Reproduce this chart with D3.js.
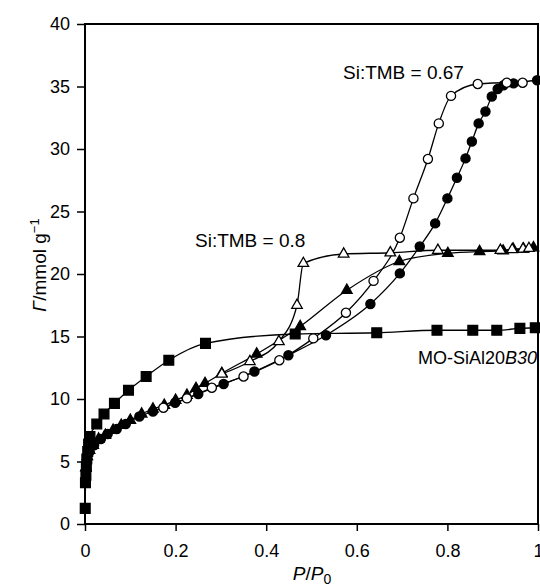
<!DOCTYPE html>
<html lang="en">
<head>
    <meta charset="UTF-8">
    <title>Isotherms</title>
    <style>
        body { margin: 0; background: #fff; }
        text { font-family: "Liberation Sans", Arial, sans-serif; fill: #000; }
        .curve { fill: none; stroke: #000; stroke-width: 1.3px; }
        .frame { fill: none; stroke: #000; stroke-width: 2px; }
        .axis path { stroke: #000; stroke-width: 2px; }
        .axis line { stroke: #000; stroke-width: 1.5px; }
        .axis text { font-size: 18px; }
    </style>
</head>
<body>
<svg width="540" height="588"></svg>
<script src="https://cdn.jsdelivr.net/npm/d3@7"></script>
<script>
// MO-SiAl20B30 (filled squares)
var sqX = [0.0005, 0.001, 0.002, 0.003, 0.004, 0.006, 0.008, 0.011, 0.026, 0.042, 0.065, 0.096, 0.135, 0.185, 0.266, 0.464, 0.644, 0.777, 0.856, 0.909, 0.96, 0.994];
var sqY = [1.25, 3.3, 3.9, 4.6, 5.2, 5.8, 6.4, 7.0, 8.0, 8.8, 9.65, 10.7, 11.8, 13.1, 14.45, 15.2, 15.3, 15.5, 15.5, 15.5, 15.65, 15.7];

// Si:TMB = 0.8 adsorption (filled triangles)
var triAdsX = [0.002, 0.005, 0.01, 0.018, 0.03, 0.045, 0.062, 0.08, 0.1, 0.125, 0.15, 0.175, 0.2, 0.225, 0.245, 0.265, 0.302, 0.379, 0.475, 0.578, 0.694, 0.801, 0.871, 0.923, 0.945, 0.968, 0.99];
var triAdsY = [4.5, 5.4, 5.9, 6.3, 6.8, 7.1, 7.5, 7.9, 8.3, 8.8, 9.2, 9.5, 9.9, 10.3, 10.85, 11.25, 12.05, 13.6, 15.8, 18.7, 21.0, 21.65, 21.8, 21.85, 22.0, 22.0, 22.1];

// Si:TMB = 0.8 desorption (open triangles)
var triDesX = [0.302, 0.364, 0.428, 0.468, 0.482, 0.571, 0.674, 0.779, 0.917, 0.943, 0.967, 0.98];
var triDesY = [12.0, 13.0, 14.6, 17.5, 20.85, 21.6, 21.7, 21.9, 21.9, 21.95, 22.0, 22.05];

// Si:TMB = 0.67 adsorption (filled circles)
var cirAdsX = [0.002, 0.005, 0.01, 0.02, 0.035, 0.05, 0.07, 0.09, 0.12, 0.15, 0.199, 0.25, 0.306, 0.374, 0.449, 0.532, 0.63, 0.695, 0.739, 0.773, 0.800, 0.821, 0.840, 0.854, 0.869, 0.884, 0.898, 0.911, 0.924, 0.946, 0.998];
var cirAdsY = [4.3, 5.2, 5.8, 6.3, 6.8, 7.2, 7.6, 8.0, 8.6, 9.0, 9.7, 10.4, 11.2, 12.2, 13.5, 15.1, 17.6, 20.05, 22.2, 24.05, 26.05, 27.7, 29.25, 30.6, 32.05, 33.0, 34.2, 34.8, 35.1, 35.25, 35.5];

// Si:TMB = 0.67 desorption (open circles)
var cirDesX = [0.173, 0.225, 0.28, 0.35, 0.429, 0.504, 0.576, 0.637, 0.695, 0.725, 0.757, 0.781, 0.808, 0.867, 0.931, 0.966];
var cirDesY = [9.3, 10.05, 10.9, 11.8, 13.1, 14.85, 16.9, 19.45, 22.9, 26.05, 29.2, 32.05, 34.25, 35.2, 35.3, 35.3];

var xTicks = [0, 0.2, 0.4, 0.6, 0.8, 1];
var xTickLabels = ["0", "0.2", "0.4", "0.6", "0.8", "1"];
var yTicks = [0, 5, 10, 15, 20, 25, 30, 35, 40];

var svg = d3.select("svg");
var mLeft = 85, mTop = 24, w = 453, h = 500;

var x = d3.scaleLinear().domain([0, 1]).range([mLeft, mLeft + w]);
var y = d3.scaleLinear().domain([0, 40]).range([mTop + h, mTop]);

function zip(xs, ys) {
  return xs.map(function (v, i) { return [v, ys[i]]; });
}

var line = d3.line()
  .x(function (d) { return x(d[0]); })
  .y(function (d) { return y(d[1]); })
  .curve(d3.curveMonotoneX);

// frame
svg.append("rect").attr("class", "frame")
  .attr("x", mLeft).attr("y", mTop).attr("width", w).attr("height", h);

svg.append("g").attr("class", "axis")
  .attr("transform", "translate(0," + (mTop + h) + ")")
  .call(d3.axisBottom(x).tickValues(xTicks).tickSize(7).tickPadding(13)
    .tickFormat(function (d, i) { return xTickLabels[i]; }));

svg.append("g").attr("class", "axis")
  .attr("transform", "translate(" + mLeft + ",0)")
  .call(d3.axisLeft(y).tickValues(yTicks).tickSize(8).tickPadding(7));

svg.selectAll(".axis .domain").remove();

var series = [
  { pts: zip(sqX, sqY), shape: "square", fill: "#000" },
  { pts: zip(triAdsX, triAdsY), shape: "triangle", fill: "#000" },
  { pts: zip(triDesX, triDesY), shape: "triangle", fill: "#fff" },
  { pts: zip(cirAdsX, cirAdsY), shape: "circle", fill: "#000" },
  { pts: zip(cirDesX, cirDesY), shape: "circle", fill: "#fff" }
];

series.forEach(function (s) {
  svg.append("path").attr("class", "curve").attr("d", line(s.pts));
});

var sym = {
  square: d3.symbol().type(d3.symbolSquare).size(95),
  triangle: d3.symbol().type(d3.symbolTriangle).size(48),
  circle: d3.symbol().type(d3.symbolCircle).size(66)
};

series.forEach(function (s) {
  svg.append("g").selectAll("path")
    .data(s.pts)
    .enter().append("path")
    .attr("d", sym[s.shape])
    .attr("transform", function (d) { return "translate(" + x(d[0]) + "," + y(d[1]) + ")"; })
    .attr("fill", s.fill)
    .attr("stroke", "#000")
    .attr("stroke-width", 1.3);
});

// annotations
svg.append("text").attr("x", 343).attr("y", 79).style("font-size", "19px").text("Si:TMB = 0.67");
svg.append("text").attr("x", 195).attr("y", 247).style("font-size", "19px").text("Si:TMB = 0.8");
var mo = svg.append("text").attr("x", 537).attr("y", 364).attr("text-anchor", "end").style("font-size", "18px");
mo.append("tspan").text("MO-SiAl20");
mo.append("tspan").style("font-style", "italic").text("B30");

// axis titles
var xt = svg.append("text").attr("x", 312).attr("y", 580).attr("text-anchor", "middle").style("font-size", "19px");
xt.append("tspan").style("font-style", "italic").text("P");
xt.append("tspan").text("/");
xt.append("tspan").style("font-style", "italic").text("P");
xt.append("tspan").attr("dy", 4).style("font-size", "14px").text("0");

var yt = svg.append("text").attr("transform", "translate(46,265) rotate(-90)")
  .attr("text-anchor", "middle").style("font-size", "19px");
yt.append("tspan").style("font-style", "italic").text("Γ");
yt.append("tspan").text("/mmol g");
yt.append("tspan").attr("dy", -7).style("font-size", "13px").text("−1");
</script>
</body>
</html>
